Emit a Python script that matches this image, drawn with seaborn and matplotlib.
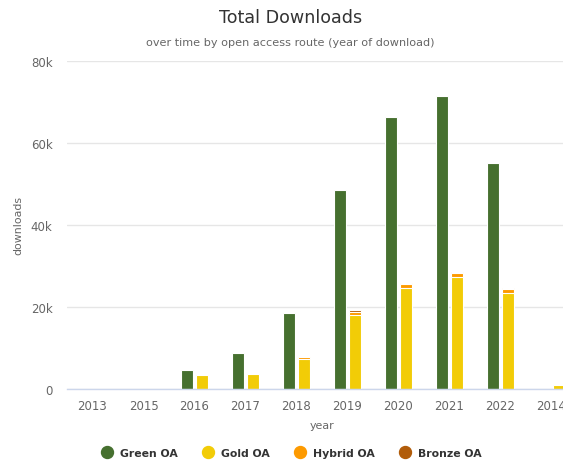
import matplotlib
matplotlib.use("Agg")
import matplotlib.pyplot as plt
from matplotlib.lines import Line2D
from matplotlib.ticker import FuncFormatter
import pandas as pd
import seaborn as sns

# Data (downloads per year)
years = ["2013", "2015", "2016", "2017", "2018", "2019", "2020", "2021", "2022", "2014"]
green_oa = [0, 0, 4700, 8700, 18400, 48500, 66300, 71400, 55100, 0]
gold_oa = [0, 0, 3300, 3600, 7400, 18000, 24600, 27200, 23500, 900]
hybrid_oa = [0, 0, 100, 100, 400, 700, 1100, 1100, 900, 0]
bronze_oa = [0, 0, 0, 0, 100, 600, 100, 100, 100, 0]

routes = ["Green OA", "Gold OA", "Hybrid OA", "Bronze OA"]
colors = {"Green OA": "#46702f", "Gold OA": "#f2cc07",
          "Hybrid OA": "#fd9a00", "Bronze OA": "#b15c0a"}

sns.set_style("white")
plt.rcParams["font.family"] = ["DejaVu Sans"]

fig = plt.figure(figsize=(5.63, 4.64), dpi=100)
ax = fig.add_axes([67 / 563, 74 / 464, 510 / 563, 328.3 / 464])

# Gold / Hybrid / Bronze share one stack; draw cumulative totals from the top layer down
gold_hybrid = [g + h for g, h in zip(gold_oa, hybrid_oa)]
gold_total = [g + b for g, b in zip(gold_hybrid, bronze_oa)]

layers = [
    ("Bronze OA", gold_total),
    ("Hybrid OA", gold_hybrid),
    ("Gold OA", gold_oa),
]

stacks = ["green", "other"]

# green stack (own column)
df_green = pd.DataFrame({"year": years, "stack": "green", "downloads": green_oa})
sns.barplot(data=df_green, x="year", y="downloads", hue="stack", hue_order=stacks,
            order=years, palette={"green": colors["Green OA"], "other": colors["Gold OA"]},
            width=0.6, gap=0.2, dodge=True, errorbar=None, saturation=1,
            edgecolor="white", linewidth=0.8, legend=False, ax=ax)

for name, vals in layers:
    df_layer = pd.DataFrame({"year": years, "stack": "other", "downloads": vals})
    sns.barplot(data=df_layer, x="year", y="downloads", hue="stack", hue_order=stacks,
                order=years, palette={"green": colors["Green OA"], "other": colors[name]},
                width=0.6, gap=0.2, dodge=True, errorbar=None, saturation=1,
                edgecolor="white", linewidth=0.8, legend=False, ax=ax)

ax.set_xlim(-0.5, len(years) - 0.5)
ax.set_ylim(0, 80000)
ax.set_yticks([0, 20000, 40000, 60000, 80000])
ax.yaxis.set_major_formatter(FuncFormatter(lambda v, p: "0" if v == 0 else f"{int(v / 1000)}k"))

ax.yaxis.grid(True, color="#e6e6e6", linewidth=1)
ax.set_axisbelow(True)
for side in ["top", "right", "left"]:
    ax.spines[side].set_visible(False)
ax.spines["bottom"].set_color("#ccd6eb")
ax.spines["bottom"].set_linewidth(1)
ax.spines["bottom"].set_zorder(5)

ax.tick_params(axis="both", length=0, labelsize=8.5, labelcolor="#666666")
ax.tick_params(axis="y", pad=10.5)
ax.tick_params(axis="x", pad=7)

ax.set_xlabel("year", fontsize=7.9, color="#666666", labelpad=6)
ax.set_ylabel("downloads", fontsize=7.9, color="#666666", labelpad=5.5)

fig.text(291 / 563, 1 - 18 / 464, "Total Downloads", ha="center", va="center",
         fontsize=12.6, color="#333333")
fig.text(290 / 563, 1 - 43 / 464, "over time by open access route (year of download)",
         ha="center", va="center", fontsize=8.1, color="#666666")

handles = [Line2D([], [], marker="o", linestyle="none", markersize=8.6,
                  markerfacecolor=colors[r], markeredgecolor=colors[r]) for r in routes]
fig.legend(handles, routes, loc="center", bbox_to_anchor=(291 / 563, 1 - 454 / 464),
           ncol=4, frameon=False, handlelength=1.2, handletextpad=0.6,
           columnspacing=2.2, prop={"size": 7.8, "weight": "bold"}, labelcolor="#333333")

fig.savefig("out.png", dpi=100)
